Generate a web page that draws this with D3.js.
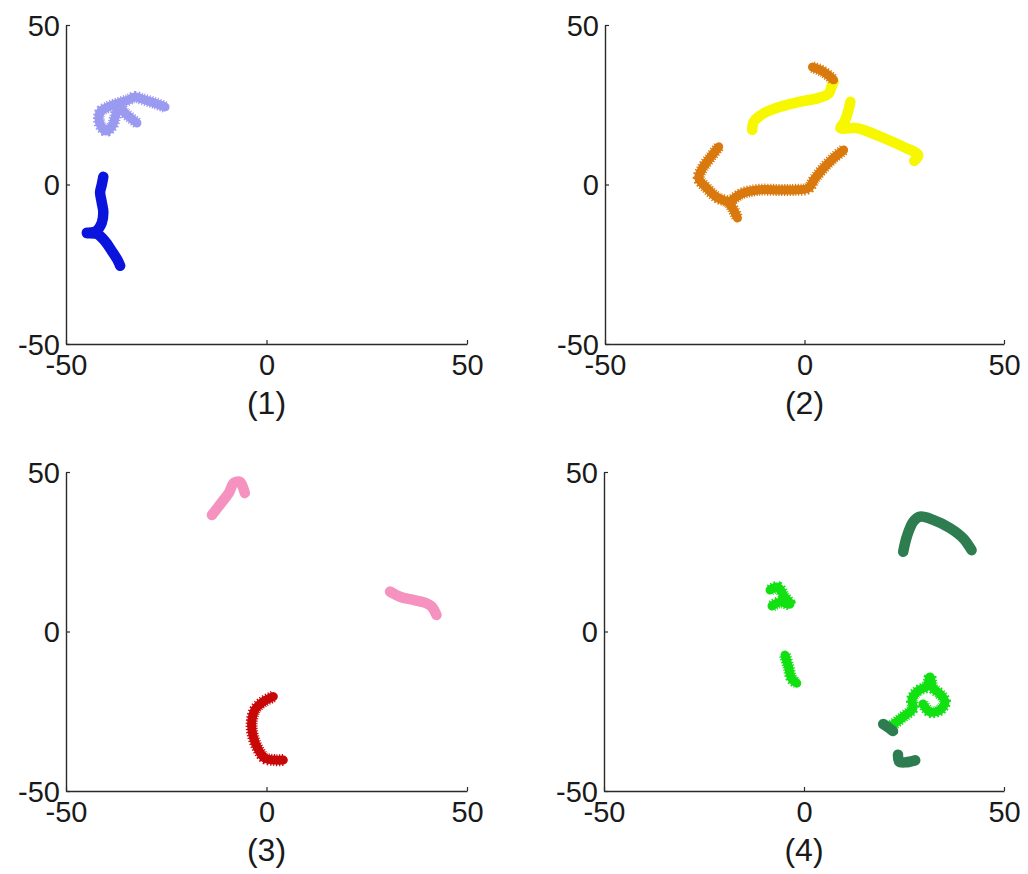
<!DOCTYPE html>
<html>
<head>
<meta charset="utf-8">
<script src="https://cdn.jsdelivr.net/npm/d3@7/dist/d3.min.js"></script>
<style>
  html, body { margin: 0; padding: 0; background: #ffffff; }
  svg { display: block; }
</style>
</head>
<body>
<svg id="chart" width="1028" height="874"></svg>
<script>
// ---------- data (x, y in data units) ----------
const tickValues = [-50, 0, 50];
const panelLabels = ["(1)", "(2)", "(3)", "(4)"];

// Panel 1
const p1LightBlue = [[-25.3,24.3],[-27.8,25.5],[-31.0,26.8],[-32.8,27.4],[-34.5,26.5],[-37.0,25.5],[-39.5,24.3],
  [-41.3,23.0],[-41.8,20.8],[-41.3,18.3],[-40.0,16.8],[-38.5,18.3],[-37.8,20.8],[-37.3,23.0],[-36.5,24.3],
  [-35.3,22.4],[-33.8,20.8],[-32.3,19.3]];
const p1DarkBlue = [[-40.7,2.4],[-41.1,-0.2],[-41.5,-2.4],[-41.1,-5.5],[-40.7,-8.6],[-41.1,-12.1],[-42.5,-14.6],
  [-44.8,-15.2],[-42.3,-15.5],[-40.3,-17.7],[-38.6,-20.8],[-37.0,-24.0],[-36.5,-25.5]];

// Panel 2
const p2OrangeA = [[-21.5,11.8],[-23.5,8.6],[-25.5,5.2],[-26.5,2.0],[-24.5,-1.1],[-22.0,-4.0],[-19.0,-5.8],[-16.8,-10.5]];
const p2OrangeB = [[-19.0,-5.8],[-16.0,-3.0],[-11.8,-1.7],[-6.8,-1.7],[-2.8,-1.7],[1.0,-1.1],[2.5,1.7],[4.8,5.2],[7.3,8.3],[9.8,10.8]];
const p2OrangeC = [[2.0,36.8],[4.8,35.3],[7.3,32.8]];
const p2YellowA = [[7.3,32.1],[6.9,31.2],[6.1,28.6],[3.2,27.0],[-1.0,26.0],[-6.0,24.4],[-10.2,22.3],[-12.7,19.7],[-13.1,17.1]];
const p2YellowB = [[11.5,25.9],[10.8,22.4],[10.0,19.6],[9.0,17.7],[12.8,17.7],[14.8,17.1],[19.8,14.6],[24.8,11.8],[28.5,9.2],[27.5,7.4]];

// Panel 3
const p3PinkA = [[-13.6,36.5],[-11.1,40.6],[-9.4,43.4],[-8.1,46.6],[-6.6,46.9],[-5.9,45.3],[-5.4,43.4]];
const p3PinkB = [[30.8,12.5],[33.3,10.9],[36.6,9.9],[40.0,8.8],[41.2,7.8],[42.4,5.2]];
const p3DarkRed = [[1.7,-20.4],[-0.8,-22.0],[-2.9,-24.6],[-3.7,-28.8],[-3.3,-33.0],[-2.0,-37.1],[-0.4,-39.7],[2.1,-40.3],[4.2,-40.3]];

// Panel 4
const p4DarkGreenArc = [[24.8,25.0],[25.7,29.7],[27.3,34.4],[29.0,36.0],[32.3,35.0],[36.5,32.4],[39.8,29.2],[41.9,25.5]];
const p4DarkGreenSmall = [[19.8,-29.0],[21.0,-30.0],[22.25,-31.2]];
const p4DarkGreenBottom = [[23.5,-38.6],[23.8,-40.8],[25.5,-41.0],[27.8,-40.4]];
const p4GreenBlob = [[-8.5,13.0],[-6.5,13.9],[-5.0,11.1],[-3.5,8.6],[-6.0,9.2],[-8.0,8.0]];
const p4GreenBar = [[-4.75,-7.4],[-3.9,-11.0],[-3.1,-14.7],[-1.8,-16.2]];
const p4GreenClump = [[21.5,-29.9],[24.75,-26.8],[27.25,-24.0],[27.0,-21.2],[28.5,-18.6],[30.75,-17.1],[31.5,-14.3],
  [32.25,-17.7],[34.0,-19.6],[35.25,-22.1],[34.0,-24.6],[31.5,-25.2],[29.75,-22.7]];

// ---------- layout & styles ----------
const panels = [
  { label: panelLabels[0], x0: 66, x1: 467, y0: 25, y1: 344, series: [
      { segs: [p1LightBlue], color: "#9a9af0", jag: true },
      { segs: [p1DarkBlue], color: "#0a14dc", jag: false }
  ]},
  { label: panelLabels[1], x0: 605, x1: 1004, y0: 25, y1: 344, series: [
      { segs: [p2YellowA, p2YellowB], color: "#f7f700", jag: false },
      { segs: [p2OrangeA, p2OrangeB, p2OrangeC], color: "#d9790e", jag: true }
  ]},
  { label: panelLabels[2], x0: 66, x1: 467, y0: 472, y1: 791, series: [
      { segs: [p3PinkA, p3PinkB], color: "#f592c0", jag: false },
      { segs: [p3DarkRed], color: "#c80808", jag: true }
  ]},
  { label: panelLabels[3], x0: 604, x1: 1004, y0: 472, y1: 791, series: [
      { segs: [p4GreenBlob, p4GreenBar, p4GreenClump], color: "#12e012", jag: true },
      { segs: [p4DarkGreenArc, p4DarkGreenSmall, p4DarkGreenBottom], color: "#2e7d50", jag: false }
  ]}
];

const FONT = "'Liberation Sans', Arial, Helvetica, sans-serif";
const svg = d3.select("#chart");

panels.forEach(p => {
  const x = d3.scaleLinear().domain([-50, 50]).range([p.x0, p.x1]);
  const y = d3.scaleLinear().domain([-50, 50]).range([p.y1, p.y0]);
  const g = svg.append("g");

  // tracks
  const line = d3.line().x(d => x(d[0])).y(d => y(d[1])).curve(d3.curveCatmullRom.alpha(0.5));
  p.series.forEach(s => {
    s.segs.forEach(seg => {
      g.append("path")
        .attr("d", line(seg))
        .attr("fill", "none")
        .attr("stroke", s.color)
        .attr("stroke-width", s.jag ? 9 : 10.5)
        .attr("stroke-linecap", "round")
        .attr("stroke-linejoin", "round");
      if (s.jag) {
        g.append("path")
          .attr("d", line(seg))
          .attr("fill", "none")
          .attr("stroke", s.color)
          .attr("stroke-width", 12)
          .attr("stroke-dasharray", "1.2,1.6")
          .attr("stroke-linecap", "butt")
          .attr("stroke-linejoin", "round");
      }
    });
  });

  // axes
  const fmt = d => String(d);   // plain hyphen-minus like the reference
  const xAxis = d3.axisBottom(x).tickValues(tickValues).tickSizeInner(-4).tickSizeOuter(0).tickFormat(fmt);
  const yAxis = d3.axisLeft(y).tickValues(tickValues).tickSizeInner(-4).tickSizeOuter(0).tickFormat(fmt);

  const gx = g.append("g").attr("transform", `translate(0,${p.y1})`).call(xAxis);
  const gy = g.append("g").attr("transform", `translate(${p.x0},0)`).call(yAxis);

  [gx, gy].forEach(a => {
    a.select(".domain").attr("stroke", "#2a2a2a").attr("stroke-width", 1.4);
    a.selectAll(".tick line").attr("stroke", "#2a2a2a").attr("stroke-width", 1.2);
    a.selectAll(".tick text")
      .attr("fill", "#1a1a1a")
      .style("font-family", FONT)
      .style("font-size", "29px");
  });
  gx.selectAll(".tick text").attr("dy", null).attr("y", 31);
  gy.selectAll(".tick text").attr("x", -6).attr("dy", "0.36em");

  // panel label
  g.append("text")
    .attr("x", x(0))
    .attr("y", p.y1 + 70)
    .attr("text-anchor", "middle")
    .attr("fill", "#1a1a1a")
    .style("font-family", FONT)
    .style("font-size", "32px")
    .text(p.label);
});
</script>
</body>
</html>
